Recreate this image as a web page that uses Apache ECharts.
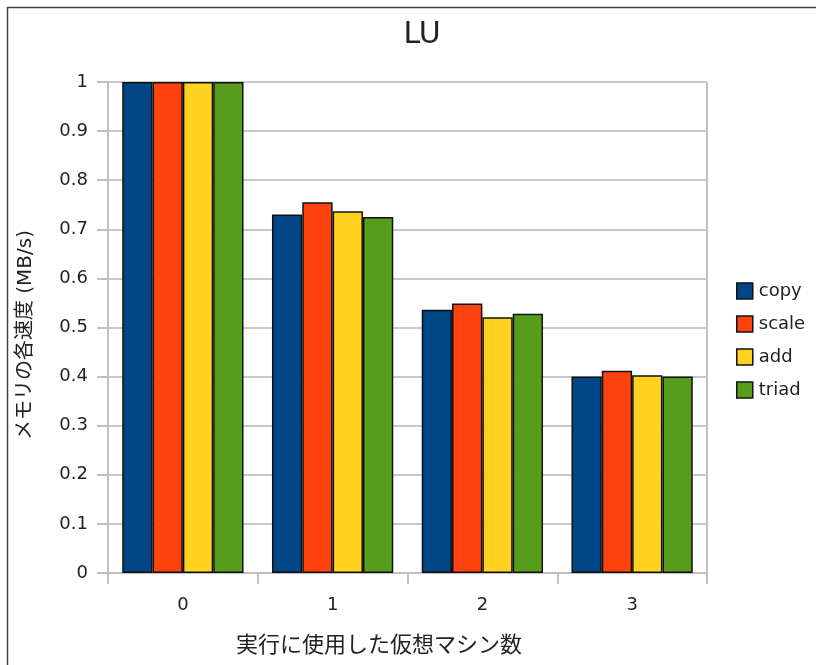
<!DOCTYPE html>
<html>
<head>
<meta charset="utf-8">
<script src="https://cdn.jsdelivr.net/npm/echarts@6/dist/echarts.min.js"></script>
<style>
  html, body { margin: 0; padding: 0; background: #fff; }
  #chart { width: 816px; height: 665px; }
</style>
</head>
<body>
<div id="chart"></div>
<script>
// Number of virtual machines used for the run
const categories = ['0', '1', '2', '3'];

// Relative memory bandwidth per STREAM kernel
const copy  = [1.0, 0.730, 0.536, 0.400];
const scale = [1.0, 0.755, 0.549, 0.412];
const add   = [1.0, 0.737, 0.521, 0.403];
const triad = [1.0, 0.725, 0.528, 0.400];

const yTicks = [0, 0.1, 0.2, 0.3, 0.4, 0.5, 0.6, 0.7, 0.8, 0.9, 1];

const seriesNames = ['copy', 'scale', 'add', 'triad'];
const seriesData = [copy, scale, add, triad];
const colors = ['#004586', '#ff420e', '#ffd320', '#579d1c'];

const xTitle = '実行に使用した仮想マシン数';
const yTitle = 'メモリの各速度 (MB/s)';

const latin = '"DejaVu Sans", "Liberation Sans", sans-serif';
const cjk = '"DejaVu Sans", "Noto Sans CJK JP", sans-serif';

const chart = echarts.init(document.getElementById('chart'), null, { renderer: 'canvas' });

chart.setOption({
  animation: false,
  backgroundColor: '#ffffff',
  title: {
    text: 'LU',
    left: 417,
    top: 15,
    textAlign: 'center',
    textStyle: { fontFamily: latin, fontSize: 30, fontWeight: 'normal', color: '#222' }
  },
  graphic: [
    {
      type: 'rect',
      shape: { x: 7.5, y: 7.5, width: 900, height: 900 },
      style: { fill: 'none', stroke: '#444', lineWidth: 1.5 },
      silent: true,
      z: -1
    },
    {
      // right edge of the plot area
      type: 'line',
      shape: { x1: 707, y1: 82, x2: 707, y2: 573 },
      style: { stroke: '#c0c0c0', lineWidth: 2 },
      silent: true
    },
    {
      type: 'text',
      x: 379,
      y: 646,
      style: {
        text: xTitle,
        font: '22px ' + cjk,
        fill: '#222',
        textAlign: 'center',
        textVerticalAlign: 'middle'
      },
      silent: true
    },
    {
      type: 'text',
      x: 26,
      y: 335,
      rotation: Math.PI / 2,
      style: {
        text: yTitle,
        font: '20px ' + cjk,
        fill: '#222',
        textAlign: 'center',
        textVerticalAlign: 'middle'
      },
      silent: true
    }
  ],
  legend: {
    orient: 'vertical',
    left: 736,
    top: 282,
    padding: 0,
    itemWidth: 16,
    itemHeight: 16,
    itemGap: 15,
    icon: 'rect',
    textStyle: { fontFamily: latin, fontSize: 18, lineHeight: 16, color: '#222', padding: [0, 0, 0, 1] },
    data: seriesNames.map((n, i) => ({
      name: n,
      itemStyle: { color: colors[i], borderColor: '#111', borderWidth: 1.5 }
    }))
  },
  grid: { left: 108, right: 109, top: 82, bottom: 92 },
  xAxis: {
    type: 'category',
    data: categories,
    axisLine: { lineStyle: { color: '#c0c0c0', width: 2 } },
    axisTick: { show: true, length: 11, lineStyle: { color: '#c0c0c0', width: 2 } },
    axisLabel: { fontFamily: latin, fontSize: 18, color: '#222', margin: 23 },
    splitLine: { show: false }
  },
  yAxis: {
    type: 'value',
    min: 0,
    max: 1,
    interval: 0.1,
    axisLine: { show: true, lineStyle: { color: '#c0c0c0', width: 2 } },
    axisTick: { show: true, length: 11, lineStyle: { color: '#c0c0c0', width: 2 } },
    axisLabel: {
      fontFamily: latin, fontSize: 18, color: '#222', margin: 20,
      formatter: v => {
        const t = yTicks.find(k => Math.abs(k - v) < 1e-9);
        return t === undefined ? '' : String(t);
      }
    },
    splitLine: { show: true, lineStyle: { color: '#c8c8c8', width: 2 } }
  },
  series: seriesNames.map((n, i) => ({
    name: n,
    type: 'bar',
    data: seriesData[i],
    barGap: '0%',
    barCategoryGap: '19%',
    itemStyle: { color: colors[i], borderColor: '#111', borderWidth: 1.5 }
  }))
});
</script>
</body>
</html>
